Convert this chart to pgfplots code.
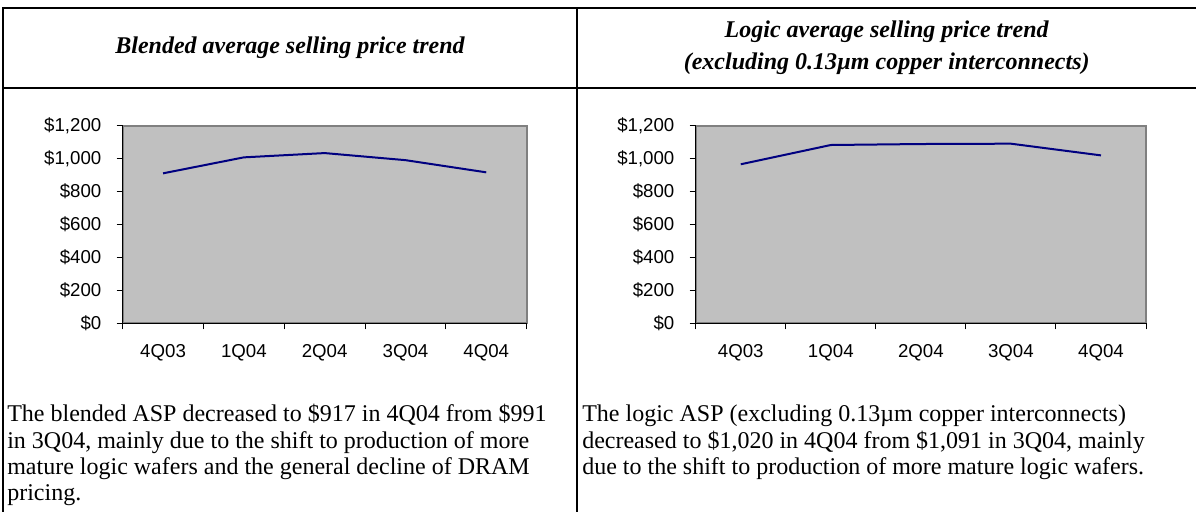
\documentclass[border=0pt]{standalone}
\usepackage{fontspec}
\setmainfont{Liberation Serif}
\setsansfont{Liberation Sans}
\usepackage{pgfplots}
\pgfplotsset{compat=1.18}
\definecolor{plotgray}{HTML}{C0C0C0}
\definecolor{bordergray}{HTML}{808080}
\definecolor{navyline}{HTML}{000080}
\pgfplotsset{aspstyle/.style={
  scale only axis,
  height=148.2pt,
  ymin=0, ymax=1200,
  xmin=-0.5, xmax=4.5,
  axis x line*=bottom, axis y line*=left,
  axis line style={black, line width=0.75pt, -},
  axis background/.style={fill=plotgray, draw=bordergray, line width=1.5pt},
  ytick={0,200,...,1200},
  yticklabels={\$0,\$200,\$400,\$600,\$800,{\$1,000},{\$1,200}},
  xtick={-0.5,0.5,1.5,2.5,3.5,4.5},
  xticklabels={,,,,,},
  extra x ticks={0,1,2,3,4},
  extra x tick labels={4Q03,1Q04,2Q04,3Q04,4Q04},
  extra x tick style={major tick length=0pt},
  tick align=outside,
  major tick length=4.5pt,
  tick style={black, line width=0.75pt},
  ticklabel style={font=\sffamily\fontsize{14}{16}\selectfont},
  xticklabel style={yshift=-12pt},
  yticklabel style={xshift=-8pt},
  clip=false,
}}
\begin{document}
\begin{tikzpicture}
\useasboundingbox (0,0) rectangle (897pt,-384pt);
% table lines
\draw[line width=1.5pt] (1.5pt,-6pt) -- (897pt,-6pt);
\draw[line width=1.5pt] (1.5pt,-66pt) -- (897pt,-66pt);
\draw[line width=1.2pt] (2.25pt,-5.4pt) -- (2.25pt,-384pt);
\draw[line width=0.8pt] (432.75pt,-6pt) -- (432.75pt,-384pt);
% titles
\node[font=\bfseries\itshape\fontsize{18}{22}\selectfont] at (217.5pt,-35.5pt) {Blended average selling price trend};
\node[font=\bfseries\itshape\fontsize{18}{22}\selectfont] at (665pt,-24pt) {Logic average selling price trend};
\node[font=\bfseries\itshape\fontsize{18}{22}\selectfont] at (665pt,-47.5pt) {(excluding 0.13µm copper interconnects)};
% charts
\begin{axis}[aspstyle, width=303pt, at={(92pt,-242.5pt)}, anchor=south west]
\addplot[navyline, line width=1.5pt, mark=none] coordinates {(0,911) (1,1008) (2,1034) (3,991) (4,917)};
\end{axis}
\begin{axis}[aspstyle, width=337.7pt, at={(521.8pt,-242.5pt)}, anchor=south west]
\addplot[navyline, line width=1.5pt, mark=none] coordinates {(0,966) (1,1083) (2,1089) (3,1091) (4,1020)};
\end{axis}
% body text
\begin{scope}[every node/.style={anchor=base west, inner sep=0pt, font=\fontsize{18}{20}\selectfont}]
\node at (5.25pt,-315.75pt) {The blended ASP decreased to \$917 in 4Q04 from \$991};
\node at (5.25pt,-336pt) {in 3Q04, mainly due to the shift to production of more};
\node at (5.25pt,-355.5pt) {mature logic wafers and the general decline of DRAM};
\node at (5.25pt,-375pt) {pricing.};
\node at (436.5pt,-315.75pt) {The logic ASP (excluding 0.13µm copper interconnects)};
\node at (436.5pt,-336pt) {decreased to \$1,020 in 4Q04 from \$1,091 in 3Q04, mainly};
\node at (436.5pt,-355.5pt) {due to the shift to production of more mature logic wafers.};
\end{scope}
\end{tikzpicture}
\end{document}
